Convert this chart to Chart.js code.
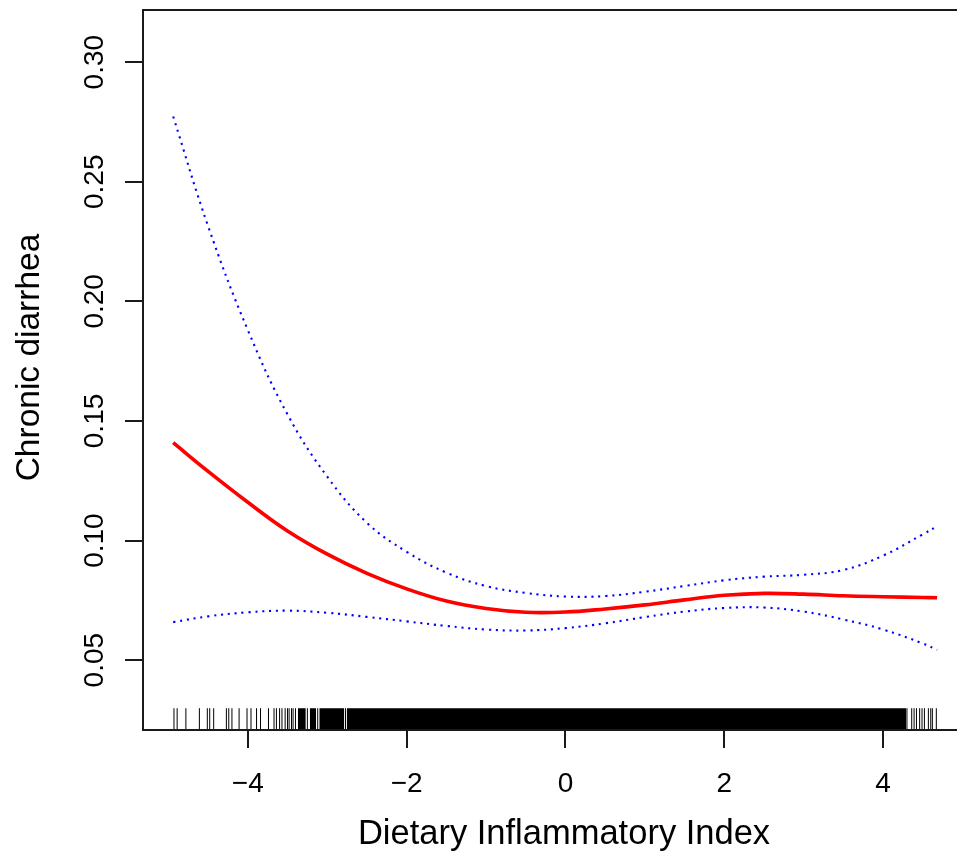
<!DOCTYPE html>
<html>
<head>
<meta charset="utf-8">
<script src="https://cdn.jsdelivr.net/npm/chart.js@4"></script>
<style>
  html, body { margin: 0; padding: 0; background: #fff; overflow: hidden; }
  #clip { position: relative; width: 957px; height: 865px; overflow: hidden; }
  #wrap { position: absolute; left: 0; top: 0; width: 985px; height: 865px; }
</style>
</head>
<body>
<div id="clip"><div id="wrap"><canvas id="c"></canvas></div></div>
<script>
// ---- data ----
const dii = [-4.94, -4.5, -4.0, -3.5, -3.0, -2.5, -2.0, -1.5, -1.0, -0.5, 0, 0.5, 1.0, 1.5, 2.0, 2.5, 3.0, 3.5, 4.0, 4.5, 4.68];
const fitted = [0.1409, 0.1289, 0.1160, 0.1040, 0.0943, 0.0863, 0.0798, 0.0747, 0.0716, 0.0700, 0.0701, 0.0714, 0.0731, 0.0752, 0.0771, 0.0779, 0.0776, 0.0769, 0.0765, 0.0762, 0.0761];
const upperCI = [0.2773, 0.2314, 0.1880, 0.1527, 0.1267, 0.1074, 0.0953, 0.0866, 0.0810, 0.0781, 0.0766, 0.0768, 0.0786, 0.0810, 0.0834, 0.0849, 0.0857, 0.0877, 0.0937, 0.1026, 0.1060];
const lowerCI = [0.0659, 0.0683, 0.0700, 0.0707, 0.0698, 0.0681, 0.0662, 0.0643, 0.0628, 0.0624, 0.0634, 0.0654, 0.0680, 0.0703, 0.0718, 0.0720, 0.0703, 0.0670, 0.0628, 0.0570, 0.0543];

// individual rug observations (sparse tails)
const rugValues = [-4.93, -4.89, -4.78, -4.61, -4.51, -4.48, -4.43, -4.27, -4.24, -4.20, -4.11, -4.01, -3.96, -3.89, -3.84, -3.74, -3.67, -3.64, -3.60, -3.57, -3.53, -3.50, -3.48, -3.45, -3.43, -3.40, -3.25, -3.12, -2.77,
  4.30, 4.36, 4.39, 4.42, 4.46, 4.49, 4.52, 4.57, 4.60, 4.62, 4.67];
// ranges where rug ticks merge into solid black
const rugBandStart = [-3.37, -3.22, -3.10, -2.755];
const rugBandEnd = [-3.27, -3.14, -2.785, 4.29];

const xTickValues = [-4, -2, 0, 2, 4];
const xTickLabels = ['\u22124', '\u22122', '0', '2', '4'];
const yTickValues = [0.05, 0.10, 0.15, 0.20, 0.25, 0.30];
const yTickLabels = ['0.05', '0.10', '0.15', '0.20', '0.25', '0.30'];

const xTitle = 'Dietary Inflammatory Index';
const yTitle = 'Chronic diarrhea';

// axis ranges
const X_MIN = -5.32, X_MAX = 5.283;
const Y_MIN = 0.0208, Y_MAX = 0.3218;
const RUG_TOP = 0.0299;

const FONT = "'Liberation Sans', Arial, Helvetica, sans-serif";
const TICK_LEN = 18;

const pts = (ys) => dii.map((x, i) => ({ x: x, y: ys[i] }));

const rugData = [];
rugValues.forEach(v => {
  rugData.push({ x: v, y: Y_MIN }, { x: v, y: RUG_TOP }, { x: v, y: null });
});

const bandSets = rugBandStart.map((s, i) => ({
  label: 'rugband' + i,
  data: [{ x: s, y: RUG_TOP }, { x: rugBandEnd[i], y: RUG_TOP }],
  showLine: true,
  borderWidth: 0,
  borderColor: '#000',
  backgroundColor: '#000',
  fill: 'start',
  pointRadius: 0,
  tension: 0
}));

const framePlugin = {
  id: 'frame',
  afterDraw(chart) {
    const { ctx, chartArea: a } = chart;
    ctx.save();
    ctx.strokeStyle = '#1a1a1a';
    ctx.lineWidth = 2;
    ctx.strokeRect(a.left, a.top, a.right - a.left, a.bottom - a.top);
    ctx.fillStyle = '#000';
    // rotated y tick labels (R style, las = 0)
    const ys = chart.scales.y;
    ctx.font = '28px ' + FONT;
    ctx.textAlign = 'center';
    ctx.textBaseline = 'alphabetic';
    yTickValues.forEach((v, i) => {
      const py = ys.getPixelForValue(v);
      ctx.save();
      ctx.translate(a.left - TICK_LEN - 22, py);
      ctx.rotate(-Math.PI / 2);
      ctx.fillText(yTickLabels[i], 0, 0);
      ctx.restore();
    });
    // y axis title
    ctx.font = '33.5px ' + FONT;
    ctx.textBaseline = 'middle';
    ctx.save();
    ctx.translate(29.5, (a.top + a.bottom) / 2 - 12.5);
    ctx.rotate(-Math.PI / 2);
    ctx.fillText(yTitle, 0, 0);
    ctx.restore();
    ctx.restore();
  }
};

new Chart(document.getElementById('c'), {
  type: 'scatter',
  data: {
    datasets: [
      ...bandSets,
      {
        label: 'rug',
        data: rugData,
        showLine: true,
        spanGaps: false,
        borderColor: '#000',
        borderWidth: 1,
        pointRadius: 0,
        tension: 0
      },
      {
        label: 'upper',
        data: pts(upperCI),
        showLine: true,
        borderColor: '#0000ff',
        borderWidth: 2.1,
        borderDash: [2.1, 4.8],
        pointRadius: 0,
        tension: 0.4
      },
      {
        label: 'lower',
        data: pts(lowerCI),
        showLine: true,
        borderColor: '#0000ff',
        borderWidth: 2.1,
        borderDash: [2.1, 4.8],
        pointRadius: 0,
        tension: 0.4
      },
      {
        label: 'fit',
        data: pts(fitted),
        showLine: true,
        borderColor: '#ff0000',
        borderWidth: 3.6,
        pointRadius: 0,
        tension: 0.4
      }
    ]
  },
  options: {
    responsive: true,
    maintainAspectRatio: false,
    animation: false,
    layout: { padding: { top: 10, right: 0, bottom: 0, left: 0 } },
    plugins: { legend: { display: false }, tooltip: { enabled: false } },
    scales: {
      x: {
        type: 'linear',
        min: X_MIN,
        max: X_MAX,
        afterBuildTicks: (s) => { s.ticks = xTickValues.map(v => ({ value: v })); },
        afterFit: (s) => { s.height = 135; },
        border: { display: false },
        grid: { drawOnChartArea: false, drawTicks: true, tickLength: TICK_LEN, color: '#1a1a1a', lineWidth: 2 },
        ticks: {
          color: '#000',
          font: { family: FONT, size: 28 },
          padding: 19,
          maxRotation: 0,
          autoSkip: false,
          callback: (v) => { const i = xTickValues.indexOf(v); return i >= 0 ? xTickLabels[i] : ''; }
        },
        title: { display: true, text: xTitle, color: '#000', font: { family: FONT, size: 34.5 }, padding: { top: 0, bottom: 10 } }
      },
      y: {
        type: 'linear',
        min: Y_MIN,
        max: Y_MAX,
        afterBuildTicks: (s) => { s.ticks = yTickValues.map(v => ({ value: v })); },
        afterFit: (s) => { s.width = 143; },
        border: { display: false },
        grid: { drawOnChartArea: false, drawTicks: true, tickLength: TICK_LEN, color: '#1a1a1a', lineWidth: 2 },
        ticks: { display: false },
        title: { display: false }
      }
    }
  },
  plugins: [framePlugin]
});
</script>
</body>
</html>
